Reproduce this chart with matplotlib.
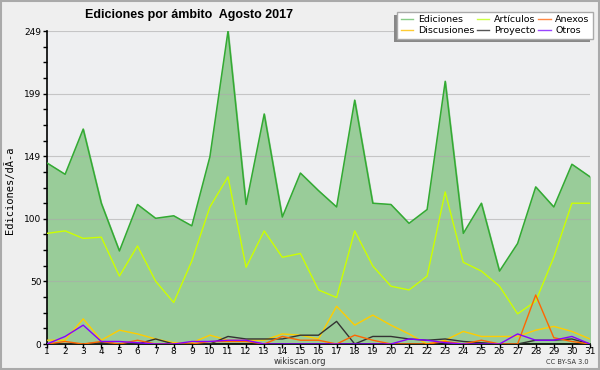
import numpy as np
import matplotlib
matplotlib.use("Agg")
from matplotlib import pyplot as plt
from matplotlib.ticker import FixedLocator
from matplotlib.lines import Line2D

# datos (agosto 2017)
days = list(range(1, 32))
ediciones = [144, 135, 171, 112, 74, 111, 100, 102, 94, 149, 249, 111, 183, 101, 136,
             122, 109, 194, 112, 111, 96, 107, 209, 88, 112, 58, 80, 125, 109, 143, 133]
articulos = [88, 90, 84, 85, 54, 78, 50, 33, 66, 109, 133, 61, 90, 69, 72,
             43, 37, 90, 62, 46, 43, 54, 121, 65, 58, 46, 24, 34, 69, 112, 112]
discusiones = [3, 3, 20, 3, 11, 8, 4, 1, 1, 7, 3, 3, 3, 8, 7,
               4, 30, 15, 23, 15, 8, 0, 3, 10, 6, 6, 6, 11, 14, 10, 4]
proyecto = [0, 0, 0, 1, 0, 0, 4, 0, 0, 0, 6, 4, 4, 4, 7,
            7, 18, 0, 6, 6, 4, 3, 4, 2, 1, 0, 0, 3, 3, 4, 0]
anexos = [0, 2, 0, 2, 0, 3, 0, 0, 0, 2, 2, 2, 0, 6, 3,
          3, 0, 7, 3, 0, 0, 0, 2, 0, 3, 0, 0, 39, 5, 2, 0]
otros = [0, 6, 15, 2, 2, 1, 0, 0, 2, 2, 3, 3, 0, 0, 0,
         0, 0, 0, 0, 0, 4, 3, 1, 0, 0, 0, 8, 3, 3, 6, 0]

bg = "#efefef"
fig = plt.figure(figsize=(6, 3.7), dpi=100, facecolor=bg)
ax = fig.add_axes([47/600, 26/370, 543/600, 313/370])
ax.set_facecolor("#eeeff1")

ymax = max(ediciones)
ax.fill_between(days, 0, ediciones, color="#99cc99", zorder=1)
ax.plot(days, ediciones, color="#33aa33", lw=1.1, zorder=3)
ax.plot(days, articulos, color="#ccff00", lw=1, zorder=3)
ax.plot(days, discusiones, color="#ffcc00", lw=1, zorder=3)
ax.plot(days, proyecto, color="#333333", lw=1, zorder=3)
ax.plot(days, anexos, color="#ff6600", lw=1, zorder=3)
ax.plot(days, otros, color="#8800ff", lw=1, zorder=3)

ax.set_xlim(1, 31)
ax.set_ylim(0, ymax)
major = [ymax * k / 5 for k in range(6)]
ax.yaxis.set_major_locator(FixedLocator(major))
ax.yaxis.set_minor_locator(FixedLocator([ymax * k / 20 for k in range(21)]))
ax.set_yticklabels([str(int(round(v))) for v in major])
ax.set_xticks(days)
ax.set_xticklabels([str(d) for d in days])
for v in major[1:]:
    ax.axhline(v, color="#aaaaaa", lw=0.8, alpha=0.6, zorder=2)

for s in ["top", "right"]:
    ax.spines[s].set_visible(False)
ax.spines["left"].set_linewidth(1.2)
ax.spines["bottom"].set_linewidth(1.2)
ax.tick_params(axis="both", labelsize=6.5, length=3, width=1, color="black")
ax.tick_params(axis="x", pad=-1)
ax.tick_params(axis="y", which="minor", length=3, width=1)
ax.tick_params(axis="y", pad=1)

fig.text(10/600, 1 - 190/370, "Ediciones/dÃ-a", rotation=90, ha="center", va="center",
         fontsize=7.5, family="DejaVu Sans Mono")
fig.text(189/600, 1 - 15/370, "Ediciones por ámbito  Agosto 2017", ha="center", va="center",
         fontsize=9, fontweight="bold", family="Liberation Sans")
fig.text(300/600, 1 - 362/370, "wikiscan.org", ha="center", va="center", fontsize=6, color="#333333")
fig.text(589/600, 1 - 362/370, "CC BY-SA 3.0", ha="right", va="center", fontsize=4.8, color="#333333")

# leyenda con sombra, en columnas: Ediciones/Discusiones, Artículos/Proyecto, Anexos/Otros
names = ["Ediciones", "Discusiones", "Artículos", "Proyecto", "Anexos", "Otros"]
leg_cols = ["#88cc88", "#ffcc33", "#ccff44", "#555555", "#ff8844", "#9944ff"]
hs = [Line2D([], [], color=c, lw=1) for c in leg_cols]
leg = ax.legend(hs, names, ncol=3,
                loc="upper right", bbox_to_anchor=(593/600, 1 - 12/370), bbox_transform=fig.transFigure,
                fontsize=6.8, frameon=True, fancybox=False, handlelength=1.3, handletextpad=0.5,
                columnspacing=0.3, labelspacing=0.2, borderpad=0.35, borderaxespad=0)
leg.get_frame().set_edgecolor("#aaaaaa")
leg.get_frame().set_linewidth(1)
leg.get_frame().set_alpha(1)
leg.set_zorder(10)

fig.canvas.draw()
bb = leg.get_window_extent()
shadow = plt.Rectangle((bb.x0 - 3, bb.y0 - 3), bb.width, bb.height, transform=None,
                       facecolor="#888888", edgecolor="none", zorder=9, clip_on=False)
ax.add_artist(shadow)

# borde de la figura
fig.patches.append(plt.Rectangle((0.001, 0.002), 0.997, 0.996, transform=fig.transFigure,
                                 fill=False, edgecolor="#aaaaaa", lw=1.5))

fig.savefig("out.png", dpi=100, facecolor=bg)
